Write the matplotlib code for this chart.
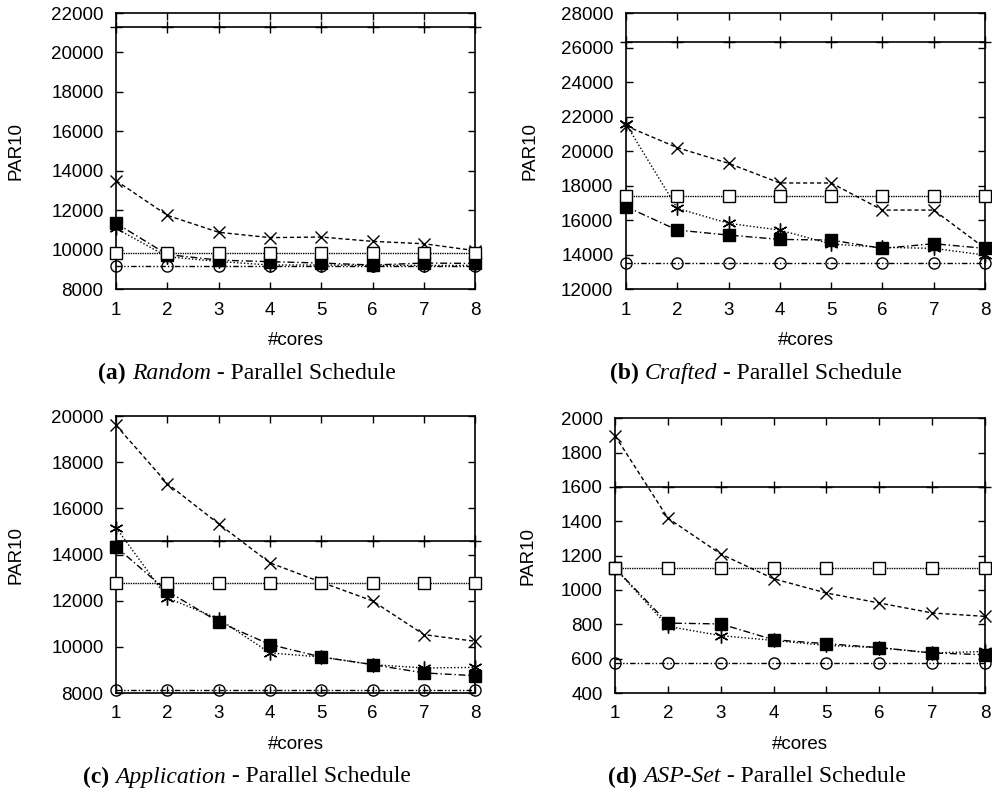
# Parallel schedule PAR10 vs #cores, four benchmark sets
import numpy as np
import matplotlib.pyplot as plt
from matplotlib.transforms import blended_transform_factory

cores = [1, 2, 3, 4, 5, 6, 7, 8]

# (a) Random
rand_plus = [21300] * 8
rand_x = [13500, 11740, 10880, 10610, 10640, 10420, 10300, 9950]
rand_star = [11080, 9640, 9400, 9220, 9220, 9200, 9200, 9200]
rand_sq = [11340, 9750, 9470, 9390, 9320, 9220, 9320, 9300]
rand_box = [9810] * 8
rand_circ = [9190] * 8

# (b) Crafted
craft_plus = [26300] * 8
craft_x = [21460, 20200, 19290, 18150, 18150, 16580, 16580, 14360]
craft_star = [21570, 16680, 15810, 15420, 14610, 14420, 14360, 13970]
craft_sq = [16780, 15420, 15130, 14880, 14840, 14360, 14630, 14360]
craft_box = [17400] * 8
craft_circ = [13490] * 8

# (c) Application
app_plus = [14580] * 8
app_x = [19600, 17070, 15330, 13640, 12800, 11990, 10530, 10240]
app_star = [15160, 12120, 11210, 9735, 9560, 9230, 9085, 9110]
app_sq = [14330, 12410, 11080, 10100, 9560, 9230, 8870, 8750]
app_box = [12770] * 8
app_circ = [8145] * 8

# (d) ASP-Set
asp_plus = [1600] * 8
asp_x = [1898, 1418, 1209, 1065, 982, 924, 866, 846]
asp_star = [1127, 788, 734, 706, 677, 664, 633, 642]
asp_sq = [1127, 807, 802, 710, 687, 664, 633, 623]
asp_box = [1127] * 8
asp_circ = [575] * 8

plt.rcParams['font.family'] = ['Liberation Sans', 'DejaVu Sans']

fig = plt.figure(figsize=(9.92, 7.92), dpi=100)


def panel(rect, ylim, yticks, series):
    ax = fig.add_axes(rect)
    plus, xs, star, sq, box, circ = series
    ax.plot(cores, plus, color='black', lw=1.2, marker='+', ms=8, mew=1.0,
            clip_on=False, zorder=3)
    ax.plot(cores, xs, color='black', lw=1.0, ls=(0, (3, 2)), marker='x',
            ms=9, mew=1.0, clip_on=False, zorder=3)
    ax.plot(cores, star, color='black', lw=1.0, ls=(0, (1, 1.5)), marker=(6, 2, 0),
            ms=10, mew=1.0, clip_on=False, zorder=3)
    ax.plot(cores, sq, color='black', lw=1.0, ls=(0, (5, 2, 1, 2)), marker='s',
            ms=8, mfc='black', clip_on=False, zorder=3)
    ax.plot(cores, box, color='black', lw=1.0, ls=(0, (1, 0.7)), marker='s',
            ms=8, mfc='white', mew=1.0, clip_on=False, zorder=3)
    ax.plot(cores, circ, color='black', lw=1.0, ls=(0, (4, 1.5, 1, 1.5, 1, 1.5)),
            marker='o', ms=8, mfc='none', mew=1.0, clip_on=False, zorder=3)
    ax.set_xlim(1, 8)
    ax.set_ylim(*ylim)
    ax.set_xticks(cores)
    ax.set_yticks(yticks)
    ax.tick_params(direction='in', top=True, right=True, length=5, width=1,
                   labelsize=13.5)
    ax.tick_params(axis='y', pad=9)
    ax.tick_params(axis='x', pad=9)
    for s in ax.spines.values():
        s.set_linewidth(1.2)
    ax.set_xlabel('#cores', fontsize=13.5, labelpad=10)
    ax.set_ylabel('PAR10', fontsize=13.5)
    return ax


ax_a = panel([0.117, 0.635, 0.362, 0.3485], (8000, 22000),
             range(8000, 22001, 2000),
             (rand_plus, rand_x, rand_star, rand_sq, rand_box, rand_circ))
ax_b = panel([0.631, 0.635, 0.362, 0.3485], (12000, 28000),
             range(12000, 28001, 2000),
             (craft_plus, craft_x, craft_star, craft_sq, craft_box, craft_circ))
ax_c = panel([0.117, 0.125, 0.362, 0.3497], (8000, 20000),
             range(8000, 20001, 2000),
             (app_plus, app_x, app_star, app_sq, app_box, app_circ))
ax_d = panel([0.620, 0.125, 0.373, 0.347], (400, 2000),
             range(400, 2001, 200),
             (asp_plus, asp_x, asp_star, asp_sq, asp_box, asp_circ))

for ax, x in [(ax_a, 25), (ax_c, 25), (ax_b, 538), (ax_d, 536)]:
    tr = blended_transform_factory(fig.transFigure, ax.transAxes)
    ax.yaxis.set_label_coords(x / 992, 0.5, transform=tr)

# captions with mixed serif styles, centred under each panel
fig.canvas.draw()
renderer = fig.canvas.get_renderer()


def caption(xcen, ycen, tag, name):
    parts = [(tag + ' ', 'bold', 'normal'), (name, 'normal', 'italic'),
             (' - Parallel Schedule', 'normal', 'normal')]
    texts = []
    for txt, w, st in parts:
        t = fig.text(0, 1 - ycen / 792, txt, fontsize=17,
                     family='Liberation Serif', weight=w, style=st,
                     va='center', ha='left')
        texts.append(t)
    widths = [t.get_window_extent(renderer).width for t in texts]
    x = xcen - sum(widths) / 2
    for t, w in zip(texts, widths):
        t.set_x(x / 992)
        x += w


caption(247, 373, '(a)', 'Random')
caption(756, 373, '(b)', 'Crafted')
caption(247, 777, '(c)', 'Application')
caption(757, 777, '(d)', 'ASP-Set')

fig.savefig('out.png', dpi=100)
